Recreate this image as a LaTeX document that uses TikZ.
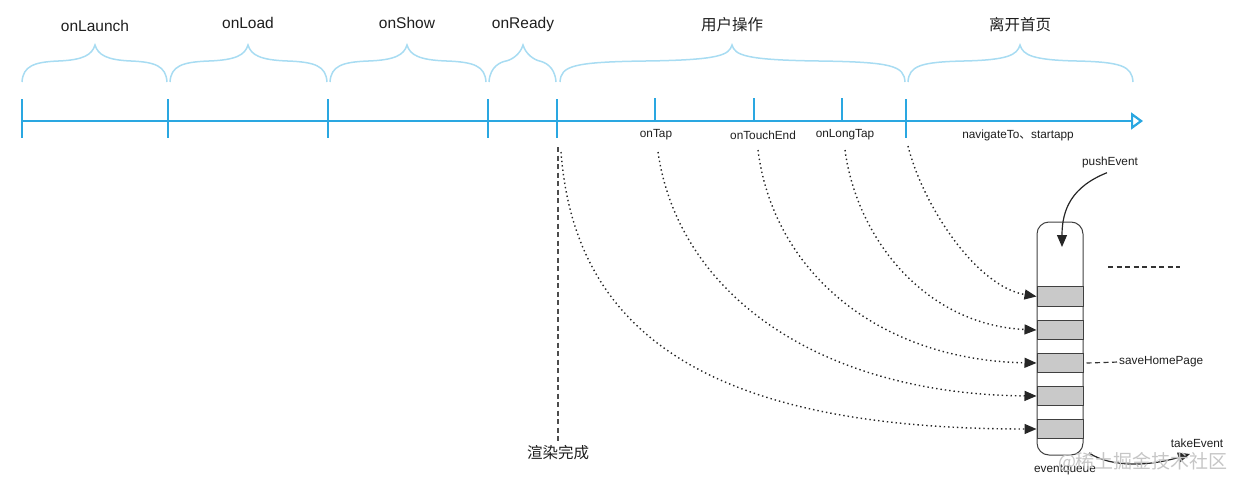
\documentclass[tikz,border=0pt]{standalone}
\usepackage{fontspec}
\setmainfont{Liberation Sans}
\newfontfamily\cjk{Noto Sans CJK SC}
\usetikzlibrary{arrows.meta}
\definecolor{tl}{HTML}{2AA7E1}
\definecolor{br}{HTML}{A8DCF2}
\definecolor{txt}{HTML}{1E1E1E}
\definecolor{cellgray}{HTML}{C9C9C9}
\newcommand{\mybrace}[3]{%
  \draw[bracestyle] (#1,82) .. controls ({#1+1},66) and ({#1+12},62) .. ({(#1+#2)/2},61)
    .. controls ({#2-12},60) and ({#2-3},55) .. (#2,45)
    .. controls ({#2+3},55) and ({#2+12},60) .. ({(#2+#3)/2},61)
    .. controls ({#3-12},62) and ({#3-1},66) .. (#3,82);}
\begin{document}
\begin{tikzpicture}[x=1pt,y=-1pt,
  big/.style={font=\fontsize{15.5}{18}\selectfont, text=txt, inner sep=0pt},
  small/.style={font=\fontsize{11.8}{14}\selectfont, text=txt, inner sep=0pt},
  majortick/.style={tl, line width=2pt},
  bracestyle/.style={br, line width=1.5pt},
  cell/.style={draw=black!75, fill=cellgray, line width=1pt, minimum width=46pt, minimum height=19.5pt, inner sep=0pt},
  flow/.style={line width=1.4pt, black!85, dash pattern=on 1.4pt off 3pt, -{Triangle[length=12pt,width=10pt]}},
  solidarrow/.style={line width=1.2pt, black!85, -{Triangle[length=12pt,width=10pt]}},
  dashline/.style={line width=1.2pt, black!80, dash pattern=on 5pt off 3.5pt}
]
\useasboundingbox (0,0) rectangle (1240,487);

% timeline
\coordinate (t0) at (22,121);
\coordinate (tend) at (1143,121);
\draw[tl, line width=2.2pt, -{Triangle[open,length=12pt,width=17pt,line width=2.2pt]}] (t0) -- (tend);
\foreach \x in {22,168,328,488,557,906} \draw[majortick] (\x,99) -- (\x,138);
\foreach \x in {655,754,842} \draw[majortick] (\x,98) -- (\x,121);

% braces
\mybrace{22}{95}{167}
\mybrace{170}{248}{327}
\mybrace{330}{407}{486}
\mybrace{489}{523}{556}
\mybrace{560}{732}{905}
\mybrace{908}{1020}{1133}

% top labels
\node[big] (lLaunch) at (95,26) {onLaunch};
\node[big] (lLoad) at (248,23) {onLoad};
\node[big] (lShow) at (407,23) {onShow};
\node[big] (lReady) at (523,24) {onReady};
\node[big] (lUser) at (732,25) {\cjk 用户操作};
\node[big] (lLeave) at (1020,25) {\cjk 离开首页};

% event labels
\node[small] (lTap) at (656,135) {onTap};
\node[small] (lTouch) at (763,135) {onTouchEnd};
\node[small] (lLong) at (845,135) {onLongTap};
\node[small] (lNav) at (1018,135) {navigateTo{\cjk 、}startapp};

% render done
\coordinate (r0) at (558,147);
\node[big] (render) at (558,453) {\cjk 渲染完成};
\draw[dashline, black!70] (r0) -- ([yshift=3pt]render.north);

% event queue
\node[draw=black!75, line width=1pt, rounded corners=12pt, minimum width=46pt, minimum height=233pt, inner sep=0pt] (queue) at (1060,338.5) {};
\node[cell] (c1) at (1060,296.5) {};
\node[cell] (c2) at (1060,330) {};
\node[cell] (c3) at (1060,363) {};
\node[cell] (c4) at (1060,396) {};
\node[cell] (c5) at (1060,429) {};
\node[small] (lQueue) at (1065,470) {eventqueue};

% sources
\coordinate (s1) at (908,146);
\coordinate (s2) at (845,150);
\coordinate (s3) at (758,150);
\coordinate (s4) at (658,152);
\coordinate (s5) at (561,152);

\draw[flow] (s1) .. controls +(15,60) and +(-60,-10) .. (c1.west);
\draw[flow] (s2) .. controls +(12,90) and +(-110,-5) .. (c2.west);
\draw[flow] (s3) .. controls +(15,120) and +(-160,-3) .. (c3.west);
\draw[flow] (s4) .. controls +(20,140) and +(-220,-2) .. (c4.west);
\draw[flow] (s5) .. controls +(14,188) and +(-317,0) .. (c5.west);

% pushEvent
\node[small] (push) at (1110,162) {pushEvent};
\coordinate (pt) at (1062,247);
\draw[solidarrow] ([xshift=-3pt,yshift=-5pt]push.south) .. controls +(-35,14) and +(0,-38) .. (pt);

% loose dashed segment
\coordinate (d0) at (1108,267);
\coordinate (d1) at (1180,267);
\draw[dashline] (d0) -- (d1);

% saveHomePage
\node[small, anchor=west] (save) at (1119,362) {saveHomePage};
\draw[dashline] ([xshift=3pt]c3.east) -- (save.west);

% takeEvent
\node[small] (take) at (1197,443) {takeEvent};
\coordinate (tk0) at (1089,453);
\coordinate (tk1) at (1190,454);
\draw[solidarrow] (tk0) .. controls (1112,468) and (1150,466) .. (tk1);

% watermark
\node[font=\cjk\fontsize{19}{22}\selectfont, text=gray!45, inner sep=0pt] (wm) at (1143,462) {@稀土掘金技术社区};
\end{tikzpicture}
\end{document}
